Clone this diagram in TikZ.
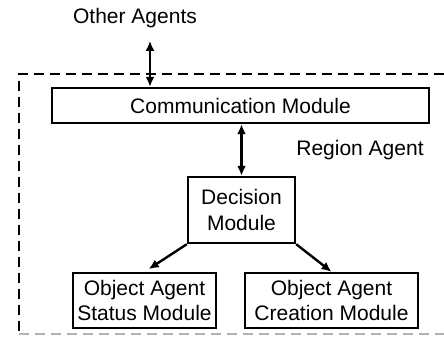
\documentclass[tikz,border=0pt]{standalone}
\usepackage{fontspec}
\setmainfont{Liberation Sans}
\usetikzlibrary{arrows.meta, positioning}

\tikzset{
  module/.style={draw, line width=1.2pt, align=center, inner sep=0pt},
  link/.style={{Latex[length=5pt,width=4.5pt]}-{Latex[length=5pt,width=4.5pt]}, line width=1.2pt},
  flow/.style={-{Latex[length=5pt,width=4.5pt]}, line width=1.2pt},
  border/.style={dashed, dash pattern=on 5pt off 3pt, line width=1.1pt}
}

\begin{document}
\begin{tikzpicture}[x=0.5pt, y=-0.5pt, font=\fontsize{10.5}{12.6}\selectfont]
  \useasboundingbox (0,0) rectangle (444,337);

  % region agent boundary, open on the right
  \draw[border] (444,74) -- (19,74) -- (19,334);
  \draw[border, gray!60] (19,334) -- (444,334);

  % modules
  \node[module, minimum width=188.5pt, minimum height=17.5pt] (comm) at (240.5,105.5) {Communication Module};
  \node[module, minimum width=53.5pt, minimum height=33pt] (dec) at (241.5,210) {Decision\\Module};
  \node[module, minimum width=71.5pt, minimum height=27.5pt] (status) at (144.5,300.5) {Object Agent\\Status Module};
  \node[module, minimum width=86.5pt, minimum height=27.5pt] (create) at (331.5,300.5) {Object Agent\\Creation Module};

  % labels
  \node (others) at (135,18) {Other Agents};
  \node (region) at (360,150) {Region Agent};

  % connectors
  \coordinate (ext) at ([xshift=7.5pt, yshift=-3pt]others.south);
  \draw[link] (ext) -- (comm.north -| ext);
  \draw[link] (comm.south -| dec.north) -- (dec.north);
  \draw[flow, shorten >=2.5pt] (dec.south west) -- (status.north);
  \draw[flow] (dec.south east) -- (create.north);
\end{tikzpicture}
\end{document}
